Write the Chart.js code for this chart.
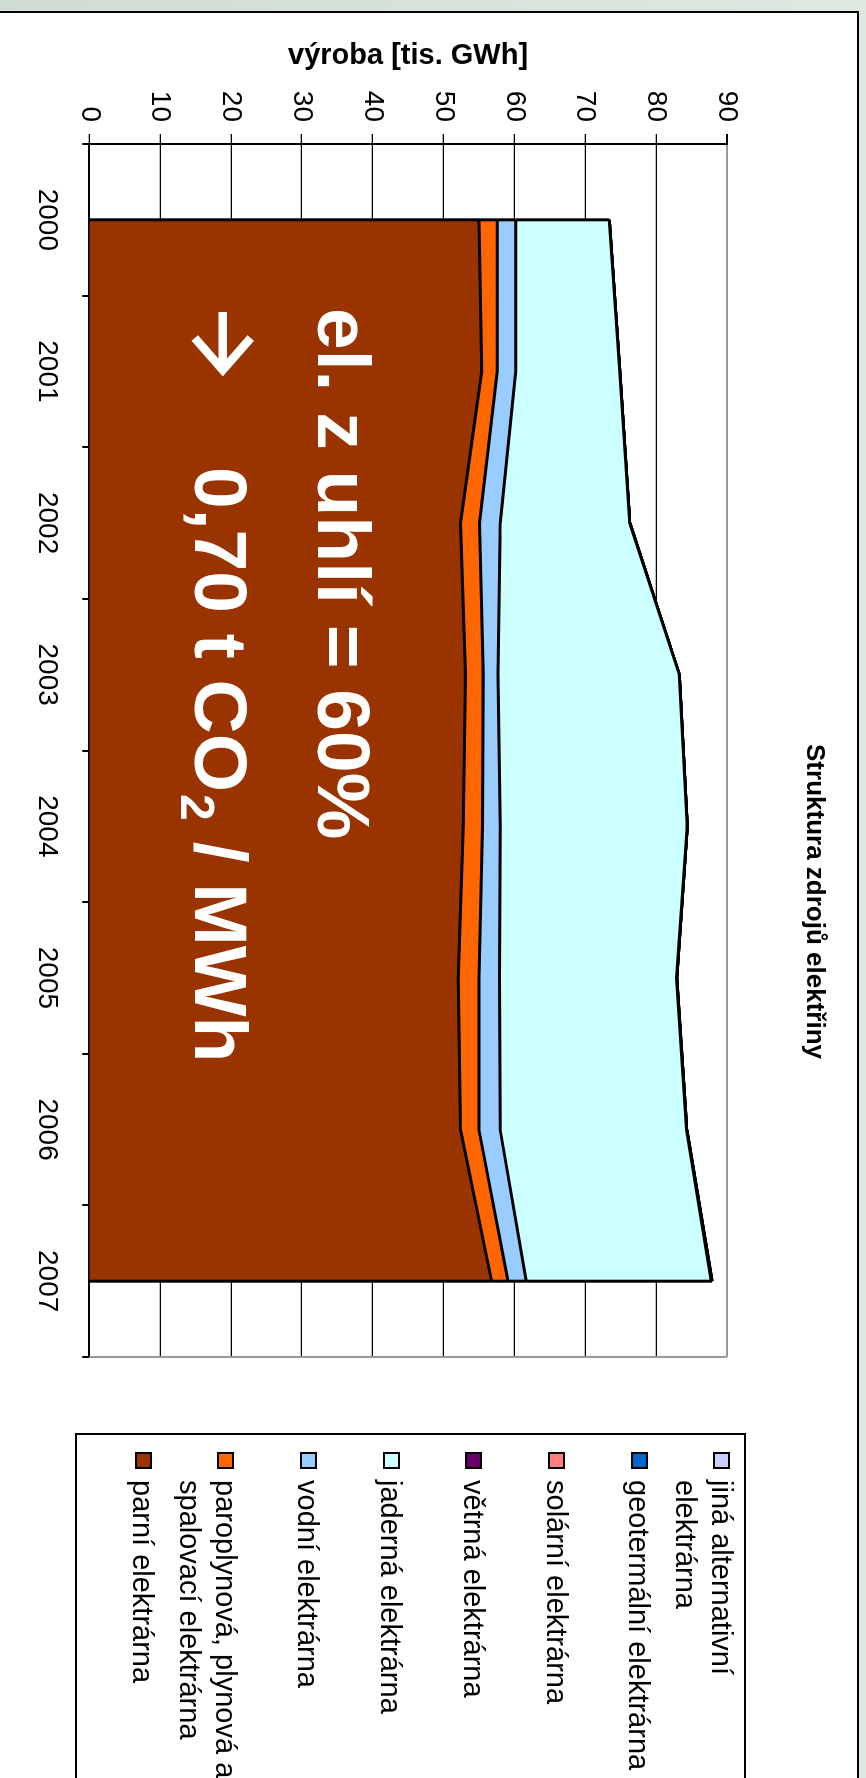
<!DOCTYPE html>
<html lang="cs">
<head>
<meta charset="utf-8">
<title>Struktura zdrojů elektřiny</title>
<script src="https://cdn.jsdelivr.net/npm/chart.js@4.4.1/dist/chart.umd.min.js"></script>
<style>
  html, body { margin: 0; width: 866px; height: 1778px; overflow: hidden; background: #d6e3da; }
  /* the sheet is laid out landscape and turned a quarter clockwise */
  #sheet {
    position: absolute; left: 0; top: 0; width: 1778px; height: 866px; overflow: hidden;
    transform-origin: 0 0; transform: translate(866px, 0) rotate(90deg);
    background: linear-gradient(to bottom, #dfe9df, #cfdcd4);
  }
  #frame {
    position: absolute; left: 11px; top: 7px; width: 1800px; height: 861px; box-sizing: border-box;
    background: #fff; border-top: 2px solid #000; border-left: 2px solid #000; border-bottom: 2px solid #888;
  }
  #chart { position: absolute; left: 13px; top: 9px; }
  #legend {
    position: absolute; left: 1433px; top: 120px; width: 420px; height: 671px; box-sizing: border-box;
    border: 2px solid #000; background: #fff;
    font: 29px 'Liberation Sans', Arial, sans-serif; color: #000;
  }
  #legend .box { position: absolute; left: 17px; width: 17px; height: 17px; box-sizing: border-box; border: 2px solid #000; }
  #legend .txt { position: absolute; left: 45px; line-height: 36px; white-space: pre; }
</style>
</head>
<body>
<div id="sheet">
  <div id="frame"></div>
  <canvas id="chart" width="1777" height="857"></canvas>
  <div id="legend"></div>
</div>
<script>
const years = ['2000', '2001', '2002', '2003', '2004', '2005', '2006', '2007'];

// výroba v tis. GWh, od spodní vrstvy nahoru
const parni = [55.0, 55.4, 52.4, 53.1, 52.8, 52.1, 52.4, 56.8];
const paroplynova = [2.6, 2.2, 2.7, 2.5, 2.7, 2.9, 2.6, 2.3];
const vodni = [2.6, 2.6, 2.9, 2.1, 2.5, 2.9, 3.0, 2.6];
const jaderna = [13.2, 14.7, 18.3, 25.6, 26.4, 25.0, 26.3, 26.1];
const vetrna = [0, 0, 0, 0, 0.01, 0.02, 0.05, 0.13];
const solarni = [0, 0, 0, 0, 0, 0, 0, 0];
const geotermalni = [0, 0, 0, 0, 0, 0, 0, 0];
const jinaAlternativni = [0, 0, 0, 0, 0, 0, 0, 0];

const seriesNames = [
  'parní elektrárna',
  'paroplynová, plynová a\nspalovací elektrárna',
  'vodní elektrárna',
  'jaderná elektrárna',
  'větrná elektrárna',
  'solární elektrárna',
  'geotermální elektrárna',
  'jiná alternativní\nelektrárna'
];
const seriesColors = ['#993300', '#FF6600', '#99CCFF', '#CCFFFF', '#660066', '#FF8080', '#0066CC', '#CCCCFF'];
const seriesData = [parni, paroplynova, vodni, jaderna, vetrna, solarni, geotermalni, jinaAlternativni];

const valueTicks = [0, 10, 20, 30, 40, 50, 60, 70, 80, 90];

const FONT = "'Liberation Sans', Arial, sans-serif";
Chart.defaults.font.family = FONT;
Chart.defaults.color = '#000';

// Excel draws the short end edges of every area too
const areaEdges = {
  id: 'areaEdges',
  afterDatasetsDraw(chart) {
    const { ctx, chartArea: a } = chart;
    ctx.save();
    ctx.strokeStyle = '#999';
    ctx.lineWidth = 2;
    ctx.beginPath();
    ctx.moveTo(a.right, a.top);
    ctx.lineTo(a.right, a.bottom);
    ctx.stroke();

    ctx.strokeStyle = '#000';
    ctx.lineWidth = 3;
    let prev = null;
    chart.data.datasets.forEach((ds, i) => {
      const pts = chart.getDatasetMeta(i).data;
      [0, pts.length - 1].forEach(j => {
        const base = prev ? prev[j].y : chart.scales.y.getPixelForValue(0);
        ctx.beginPath();
        ctx.moveTo(pts[j].x, base);
        ctx.lineTo(pts[j].x, pts[j].y);
        ctx.stroke();
      });
      prev = pts;
    });
    ctx.restore();
  }
};

// white note over the coal area
const coalNote = {
  id: 'coalNote',
  afterDraw(chart) {
    const { ctx, chartArea: a } = chart;
    const x0 = a.left + 164;
    ctx.save();
    ctx.fillStyle = '#fff';
    ctx.strokeStyle = '#fff';
    ctx.textBaseline = 'alphabetic';
    ctx.font = 'bold 75px ' + FONT;
    ctx.fillText('el. z uhlí = 60%', x0, a.top + 409);

    // arrow
    const ay = a.top + 504;
    ctx.lineWidth = 8.5;
    ctx.lineCap = 'butt';
    ctx.beginPath();
    ctx.moveTo(a.left + 168, ay);
    ctx.lineTo(a.left + 227, ay);
    ctx.moveTo(a.left + 194, ay - 28);
    ctx.lineTo(a.left + 226, ay);
    ctx.lineTo(a.left + 194, ay + 28);
    ctx.stroke();

    const by = a.top + 532;
    let x = a.left + 323;
    const head = '0,70 t CO';
    ctx.fillText(head, x, by);
    x += ctx.measureText(head).width;
    ctx.font = 'bold 48px ' + FONT;
    ctx.fillText('2', x + 2, by + 14);
    x += ctx.measureText('2').width + 2;
    ctx.font = 'bold 75px ' + FONT;
    ctx.fillText(' / MWh', x, by);
    ctx.restore();
  }
};

const datasets = seriesData.map((data, i) => ({
  label: seriesNames[i].replace('\n', ' '),
  data: data,
  backgroundColor: seriesColors[i],
  borderColor: '#000',
  borderWidth: 3,
  fill: i === 0 ? 'origin' : '-1',
  pointRadius: 0,
  tension: 0
}));

new Chart(document.getElementById('chart'), {
  type: 'line',
  data: { labels: years, datasets: datasets },
  options: {
    responsive: false,
    animation: false,
    devicePixelRatio: 1,
    layout: { padding: 0 },
    plugins: {
      legend: { display: false },
      tooltip: { enabled: false },
      title: {
        display: true,
        text: 'Struktura zdrojů elektřiny',
        color: '#000',
        font: { size: 26, weight: 'bold' },
        padding: { top: 27, bottom: 72 }
      }
    },
    scales: {
      x: {
        type: 'category',
        offset: true,
        grid: { offset: true, drawOnChartArea: false, tickLength: 7, tickColor: '#000', lineWidth: 2 },
        border: { color: '#000', width: 2 },
        ticks: { padding: 19, maxRotation: 0, font: { size: 28 }, color: '#000' },
        afterFit: scale => { scale.height = 89.3; }
      },
      y: {
        stacked: true,
        min: valueTicks[0],
        max: valueTicks[valueTicks.length - 1],
        afterBuildTicks: scale => { scale.ticks = valueTicks.map(v => ({ value: v })); },
        grid: {
          color: c => (c.tick && c.tick.value === 90 ? '#999' : '#000'),
          tickColor: '#000',
          lineWidth: c => (c.tick && c.tick.value === 90 ? 2 : 1.3),
          tickLength: 10
        },
        border: { color: '#000', width: 2 },
        ticks: { padding: 12, font: { size: 28 }, color: '#000' },
        title: {
          display: true,
          text: 'výroba [tis. GWh]',
          color: '#000',
          font: { size: 29, weight: 'bold' },
          padding: { top: 26, bottom: 0 }
        },
        afterFit: scale => { scale.width = 131; }
      },
      // empty band on the right that keeps room for the legend box
      legendRoom: {
        axis: 'y',
        position: 'right',
        grid: { display: false },
        border: { display: false },
        ticks: { display: false },
        afterFit: scale => { scale.width = 433; }
      }
    }
  },
  plugins: [areaEdges, coalNote]
});

// legend box, top entry is the top layer
const legend = document.getElementById('legend');
for (let k = 0; k < seriesNames.length; k++) {
  const i = seriesNames.length - 1 - k;
  const top = 144 + 82.7 * k - 122;
  const box = document.createElement('div');
  box.className = 'box';
  box.style.top = (top - 8.5) + 'px';
  box.style.background = seriesColors[i];
  const txt = document.createElement('div');
  txt.className = 'txt';
  txt.style.top = (top - 18) + 'px';
  txt.textContent = seriesNames[i];
  legend.appendChild(box);
  legend.appendChild(txt);
}
</script>
</body>
</html>
